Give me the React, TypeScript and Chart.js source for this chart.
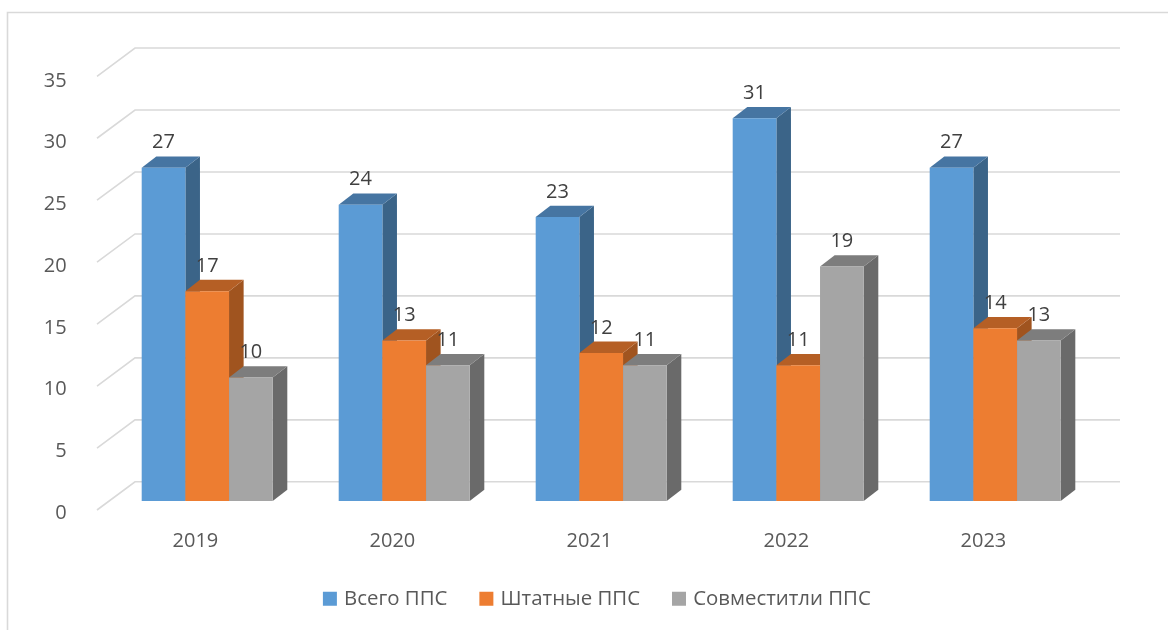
import React, { useEffect, useRef } from "react";
import { Chart, registerables } from "chart.js";

Chart.register(...registerables);

const categories = ["2019", "2020", "2021", "2022", "2023"];
const seriesNames = ["Всего ППС", "Штатные ППС", "Совместитли ППС"];
const totalStaff = [27, 24, 23, 31, 27];
const fullTimeStaff = [17, 13, 12, 11, 14];
const partTimeStaff = [10, 11, 11, 19, 13];
const frontColors = ["#5B9BD5", "#ED7D31", "#A5A5A5"];
const topColors = ["#4675A2", "#B55F25", "#7D7D7D"];
const sideColors = ["#3B6488", "#A0541F", "#6A6A6A"];

const FONT = "'Open Sans'";
const GRID = "#D9D9D9";

const depthX = 14.6;
const depthY = 11.3;
const wallScale = 1.004;

const plugin3d = {
  id: "plugin3d",
  afterLayout(chart: any) {
    chart.legend.left += 41.5;
    chart.legend.right += 41.5;
  },
  beforeDatasetsDraw(chart: any) {
    const { ctx, scales, chartArea } = chart;
    ctx.save();
    ctx.strokeStyle = GRID;
    ctx.lineWidth = 1.6;
    ctx.beginPath();
    ctx.moveTo(7.5, 630);
    ctx.lineTo(7.5, 12.5);
    ctx.lineTo(1168, 12.5);
    ctx.stroke();
    for (const t of scales.y.ticks) {
      const h = (chartArea.bottom - scales.y.getPixelForValue(t.value)) * wallScale;
      const y = chartArea.bottom - h;
      ctx.beginPath();
      ctx.moveTo(chartArea.left - 11.7, y + 9);
      ctx.lineTo(chartArea.left + 26.3, y - 19.2);
      ctx.lineTo(chartArea.right + 26.3, y - 19.2);
      ctx.stroke();
    }
    ctx.restore();
  },
  beforeDatasetDraw() {
    return false;
  },
  afterDatasetsDraw(chart: any) {
    const { ctx } = chart;
    const poly = (pts: number[][], fill: string) => {
      ctx.fillStyle = fill;
      ctx.beginPath();
      pts.forEach((p, i) => (i ? ctx.lineTo(p[0], p[1]) : ctx.moveTo(p[0], p[1])));
      ctx.closePath();
      ctx.fill();
    };
    ctx.save();
    chart.data.datasets.forEach((ds: any, di: number) => {
      chart.getDatasetMeta(di).data.forEach((bar: any) => {
        const p = bar.getProps(["x", "y", "base", "width"], true);
        const l = p.x - p.width / 2;
        const r = p.x + p.width / 2;
        poly(
          [[r, p.y], [r + depthX, p.y - depthY], [r + depthX, p.base - depthY], [r, p.base]],
          sideColors[di]
        );
        poly(
          [[l, p.y], [l + depthX, p.y - depthY], [r + depthX, p.y - depthY], [r, p.y]],
          topColors[di]
        );
        bar.draw(ctx);
      });
    });
    ctx.font = `20px ${FONT}`;
    ctx.fillStyle = "#404040";
    ctx.textAlign = "center";
    ctx.textBaseline = "middle";
    chart.data.datasets.forEach((ds: any, di: number) => {
      chart.getDatasetMeta(di).data.forEach((bar: any, i: number) => {
        const p = bar.getProps(["x", "y"], true);
        ctx.fillText(String(ds.data[i]), p.x, p.y - 25);
      });
    });
    ctx.restore();
  },
};

export default function App() {
  const ref = useRef<HTMLCanvasElement>(null);
  useEffect(() => {
    document.body.style.margin = "0";
    const chart = new Chart(ref.current!, {
      type: "bar",
      data: {
        labels: categories,
        datasets: [totalStaff, fullTimeStaff, partTimeStaff].map((data, i) => ({
          label: seriesNames[i],
          data,
          backgroundColor: frontColors[i],
          borderWidth: 0,
          categoryPercentage: 0.665,
          barPercentage: 1,
        })),
      },
      options: {
        animation: false,
        responsive: false,
        layout: { padding: { left: 20, right: 74.3, top: 69, bottom: 11 } },
        scales: {
          x: {
            grid: { display: false },
            border: { display: false },
            ticks: {
              color: "#595959",
              font: { family: FONT, size: 20 },
              labelOffset: -11.8,
              padding: 20,
              autoSkip: false,
              maxRotation: 0,
            },
            afterFit(s: any) {
              s.height = 52.6;
            },
          },
          y: {
            min: 0,
            max: 35,
            grid: { display: false },
            border: { display: false },
            ticks: {
              stepSize: 5,
              color: "#595959",
              font: { family: FONT, size: 20 },
              labelOffset: 12,
              padding: 34,
            },
            afterFit(s: any) {
              s.width = 88.7;
            },
          },
        },
        plugins: {
          legend: {
            position: "bottom",
            labels: {
              boxWidth: 8,
              boxHeight: 8,
              padding: 35,
              color: "#595959",
              font: { family: FONT, size: 20.4 },
              generateLabels(chart: any) {
                return Chart.defaults.plugins.legend.labels
                  .generateLabels(chart)
                  .map((item: any, i: number) => ({
                    ...item,
                    strokeStyle: frontColors[i],
                    lineWidth: 6,
                  }));
              },
            },
          },
          tooltip: { enabled: false },
        },
      },
      plugins: [plugin3d],
    } as any);
    return () => chart.destroy();
  }, []);
  return <canvas ref={ref} width={1168} height={630} style={{ display: "block" }} />;
}
